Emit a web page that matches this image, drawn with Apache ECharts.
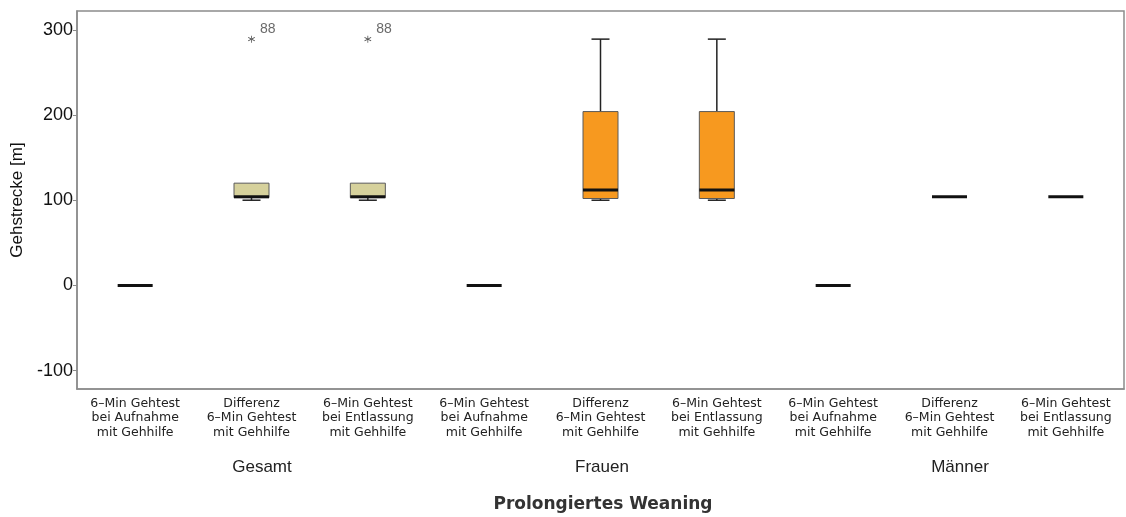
<!DOCTYPE html>
<html>
<head>
<meta charset="utf-8">
<script src="https://cdn.jsdelivr.net/npm/echarts@6/dist/echarts.min.js"></script>
<style>html,body{margin:0;padding:0;background:#fff}#c{width:1126px;height:517px}</style>
</head>
<body>
<div id="c"></div>
<script>
const categories = [
  '6–Min Gehtest\nbei Aufnahme\nmit Gehhilfe',
  'Differenz\n6–Min Gehtest\nmit Gehhilfe',
  '6–Min Gehtest\nbei Entlassung\nmit Gehhilfe',
  '6–Min Gehtest\nbei Aufnahme\nmit Gehhilfe',
  'Differenz\n6–Min Gehtest\nmit Gehhilfe',
  '6–Min Gehtest\nbei Entlassung\nmit Gehhilfe',
  '6–Min Gehtest\nbei Aufnahme\nmit Gehhilfe',
  'Differenz\n6–Min Gehtest\nmit Gehhilfe',
  '6–Min Gehtest\nbei Entlassung\nmit Gehhilfe'
];
const groups = ['Gesamt', 'Frauen', 'Männer'];
const mins    = [0, 100, 100, 0, 100, 100, 0, 104, 104];
const q1s     = [0, 103, 103, 0, 102, 102, 0, 104, 104];
const medians = [0, 104, 104, 0, 112, 112, 0, 104, 104];
const q3s     = [0, 120, 120, 0, 204, 204, 0, 104, 104];
const maxs    = [0, 120, 120, 0, 289, 289, 0, 104, 104];
const outlierCats = [1, 2];
const outlierValues = [289, 289];
const outlierLabels = ['88', '88'];
const yTicks = [-100, 0, 100, 200, 300];
const yTitle = 'Gehstrecke [m]';
const xTitle = 'Prolongiertes Weaning';

const groupFill = ['#d6d19c', '#f7991f', '#d6d19c'];

const boxData = categories.map((c, i) => [i, mins[i], q1s[i], medians[i], q3s[i], maxs[i]]);
const outData = outlierCats.map((c, k) => [c, outlierValues[k], outlierLabels[k]]);

const asterisk = 'path://M-0.5,-5L0.5,-5L0.5,5L-0.5,5Z' +
  'M4.08,2.93L4.58,2.07L-4.08,-2.93L-4.58,-2.07Z' +
  'M-4.58,2.07L-4.08,2.93L4.58,-2.07L4.08,-2.93Z';

const chart = echarts.init(document.getElementById('c'), null, {renderer: 'canvas'});
chart.setOption({
  animation: false,
  backgroundColor: '#fff',
  grid: {left: 77, top: 11, right: 2, bottom: 128, show: true, borderColor: '#8c8c8c', borderWidth: 1.5, backgroundColor: 'transparent'},
  xAxis: {
    type: 'category',
    data: categories,
    boundaryGap: true,
    axisLine: {onZero: false, lineStyle: {color: '#8c8c8c', width: 1.5}},
    axisTick: {alignWithLabel: true, length: 4, lineStyle: {color: '#8c8c8c'}},
    axisLabel: {interval: 0, margin: 7, fontFamily: 'DejaVu Sans', fontSize: 12.5, lineHeight: 14.7, color: '#222'}
  },
  yAxis: {
    type: 'value',
    min: -121.5,
    max: 322,
    name: yTitle,
    nameLocation: 'middle',
    nameGap: 46,
    nameTextStyle: {fontFamily: 'Liberation Sans', fontSize: 17, color: '#111'},
    splitLine: {show: false},
    axisLine: {show: true, lineStyle: {color: '#8c8c8c', width: 1.5}},
    axisTick: {show: true, length: 4, customValues: yTicks, lineStyle: {color: '#8c8c8c'}},
    axisLabel: {customValues: yTicks, margin: 4, fontFamily: 'Liberation Sans', fontSize: 18, color: '#111'}
  },
  series: [
    {
      type: 'custom',
      data: boxData,
      encode: {x: 0, y: [1, 2, 3, 4, 5]},
      renderItem: function (params, api) {
        const i = api.value(0);
        const pMin = api.coord([i, api.value(1)]);
        const pQ1 = api.coord([i, api.value(2)]);
        const pMed = api.coord([i, api.value(3)]);
        const pQ3 = api.coord([i, api.value(4)]);
        const pMax = api.coord([i, api.value(5)]);
        const cx = pMed[0];
        const bw = 35, cw = 18;
        const fill = groupFill[Math.floor(i / 3)];
        const ch = [];
        const lineStyle = {stroke: '#222', lineWidth: 1.5};
        if (pMax[1] < pQ3[1] - 0.5) {
          ch.push({type: 'line', shape: {x1: cx, y1: pQ3[1], x2: cx, y2: pMax[1]}, style: lineStyle});
          ch.push({type: 'line', shape: {x1: cx - cw / 2, y1: pMax[1], x2: cx + cw / 2, y2: pMax[1]}, style: lineStyle});
        }
        if (pMin[1] > pQ1[1] + 0.5) {
          ch.push({type: 'line', shape: {x1: cx, y1: pQ1[1], x2: cx, y2: pMin[1]}, style: lineStyle});
          ch.push({type: 'line', shape: {x1: cx - cw / 2, y1: pMin[1], x2: cx + cw / 2, y2: pMin[1]}, style: lineStyle});
        }
        if (pQ1[1] - pQ3[1] > 0.5) {
          ch.push({type: 'rect', shape: {x: cx - bw / 2, y: pQ3[1], width: bw, height: pQ1[1] - pQ3[1]},
            style: {fill: fill, stroke: '#5a5a5a', lineWidth: 1}});
        }
        ch.push({type: 'line', shape: {x1: cx - bw / 2, y1: pMed[1], x2: cx + bw / 2, y2: pMed[1]},
          style: {stroke: '#111', lineWidth: 3}});
        return {type: 'group', children: ch};
      },
      z: 2
    },
    {
      type: 'scatter',
      data: outData,
      symbol: asterisk,
      symbolSize: 7,
      itemStyle: {color: '#222'},
      label: {
        show: true,
        position: 'right',
        offset: [0, -10],
        formatter: p => p.value[2],
        fontFamily: 'Liberation Sans',
        fontSize: 14,
        color: '#444'
      },
      z: 3
    }
  ],
  graphic: [
    {type: 'text', style: {text: groups[0], x: 262, y: 467, align: 'center', verticalAlign: 'middle', font: '17px "Liberation Sans"', fill: '#222'}},
    {type: 'text', style: {text: groups[1], x: 602, y: 467, align: 'center', verticalAlign: 'middle', font: '17px "Liberation Sans"', fill: '#222'}},
    {type: 'text', style: {text: groups[2], x: 960, y: 467, align: 'center', verticalAlign: 'middle', font: '17px "Liberation Sans"', fill: '#222'}},
    {type: 'text', style: {text: xTitle, x: 603, y: 505, align: 'center', verticalAlign: 'middle', font: 'bold 17px "DejaVu Sans"', fill: '#333'}}
  ]
});
</script>
</body>
</html>
